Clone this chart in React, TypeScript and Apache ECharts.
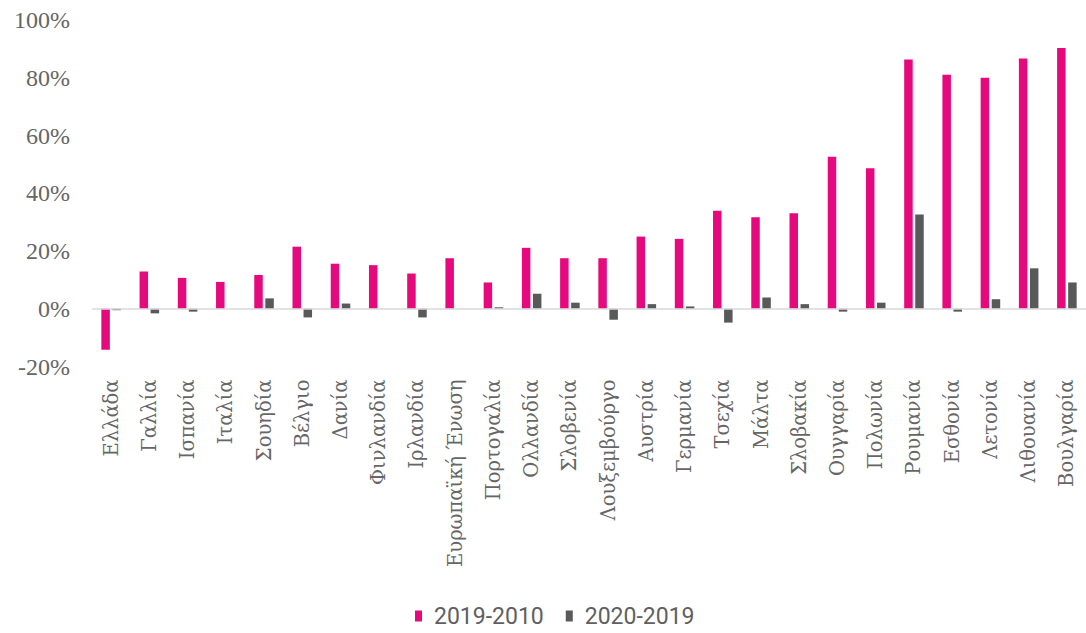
import React, { useEffect, useRef } from "react";
import * as echarts from "echarts";

const categories = [
  "Ελλάδα", "Γαλλία", "Ισπανία", "Ιταλία", "Σουηδία", "Βέλγιο", "Δανία", "Φινλανδία",
  "Ιρλανδία", "Ευρωπαϊκή Ένωση", "Πορτογαλία", "Ολλανδία", "Σλοβενία", "Λουξεμβούργο",
  "Αυστρία", "Γερμανία", "Τσεχία", "Μάλτα", "Σλοβακία", "Ουγγαρία", "Πολωνία",
  "Ρουμανία", "Εσθονία", "Λετονία", "Λιθουανία", "Βουλγαρία",
];

const series2019_2010 = [
  -14.2, 12.9, 10.7, 9.3, 11.7, 21.5, 15.6, 15.1,
  12.2, 17.5, 9.1, 21.1, 17.5, 17.5,
  25.0, 24.2, 33.9, 31.7, 33.1, 52.6, 48.7,
  86.3, 81.0, 80.0, 86.7, 90.3,
];

const series2020_2019 = [
  -0.5, -1.6, -1.0, 0, 3.6, -3.0, 1.8, 0,
  -3.0, 0, 0.5, 5.2, 2.1, -3.8,
  1.6, 0.8, -4.8, 3.9, 1.6, -1.0, 2.1,
  32.6, -1.0, 3.3, 14.0, 9.1,
];

const seriesNames = ["2019-2010", "2020-2019"];
const yTicks = { min: -20, max: 100, interval: 20 };

export default function App() {
  const ref = useRef<HTMLDivElement>(null);
  useEffect(() => {
    if (!ref.current) return;
    const chart = echarts.init(ref.current, undefined, { renderer: "svg" });
    chart.setOption({
      animation: false,
      backgroundColor: "#ffffff",
      grid: { left: 92, top: 20, width: 996, bottom: 266.5, containLabel: false },
      legend: {
        left: 415,
        top: 603,
        padding: 0,
        itemWidth: 7,
        itemHeight: 11,
        itemGap: 22,
        icon: "rect",
        textStyle: {
          fontFamily: "Roboto",
          fontSize: 23,
          lineHeight: 26,
          color: "#5f5f5f",
          padding: [0, 0, 0, 7],
        },
        data: seriesNames,
      },
      xAxis: {
        type: "category",
        data: categories,
        axisLine: { show: false },
        axisTick: { show: false },
        axisLabel: {
          rotate: 90,
          interval: 0,
          margin: 13,
          fontFamily: "DejaVu Serif",
          fontSize: 19.5,
          color: "#666666",
        },
      },
      yAxis: {
        type: "value",
        min: yTicks.min,
        max: yTicks.max,
        interval: yTicks.interval,
        axisLine: { show: false },
        axisTick: { show: false },
        splitLine: { show: false },
        axisLabel: {
          formatter: (v: number) => `${v}%`,
          margin: 22,
          fontFamily: "Liberation Serif",
          fontSize: 24,
          color: "#666666",
        },
      },
      series: [
        {
          name: seriesNames[0],
          type: "bar",
          data: series2019_2010,
          barWidth: 8.5,
          barGap: "30%",
          itemStyle: { color: "#E6097E" },
          markLine: {
            silent: true,
            symbol: "none",
            label: { show: false },
            lineStyle: { color: "#d9d9d9", width: 1.5, type: "solid" },
            data: [{ yAxis: 0 }],
          },
        },
        {
          name: seriesNames[1],
          type: "bar",
          data: series2020_2019,
          barWidth: 8.5,
          barGap: "30%",
          itemStyle: { color: "#595959" },
        },
      ],
    });
    return () => chart.dispose();
  }, []);
  return (
    <div
      ref={ref}
      style={{ position: "fixed", left: 0, top: 0, width: 1086, height: 633, background: "#fff" }}
    />
  );
}
